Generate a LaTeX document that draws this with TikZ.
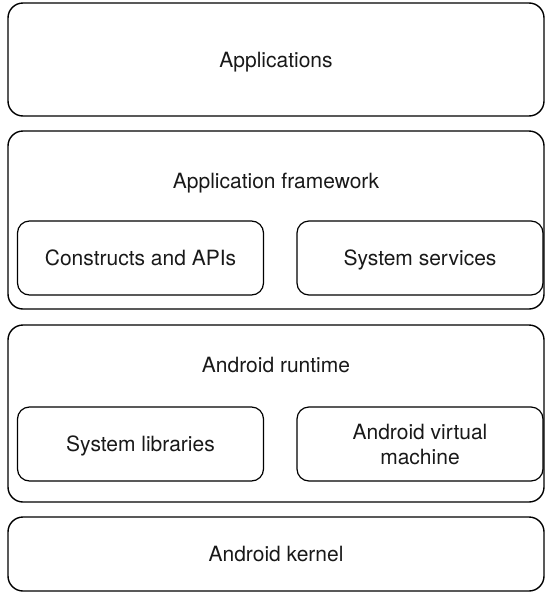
\documentclass[tikz,border=0pt]{standalone}
\usepackage{fontspec}
\setmainfont{TeX Gyre Heros}
\begin{document}
\begin{tikzpicture}[x=1pt, y=-1pt,
        strut/.style={text height=15pt, text depth=0pt},
        layer/.style={draw, line width=1.4pt, rounded corners=15pt, minimum width=536pt, inner sep=0pt},
        part/.style={draw, line width=1.2pt, rounded corners=12pt, minimum width=246pt, minimum height=74pt, inner sep=0pt, align=center},
        every node/.style={font=\fontsize{21}{25}\selectfont, text=black!90}]
        \useasboundingbox (0, 0) rectangle (545, 592);

        \node[layer, strut, minimum height=113pt] (apps) at (276, 59.5) {Applications};
        \node[layer, minimum height=178pt] (frame) at (276, 220) {};
        \node[layer, minimum height=177pt] (runtime) at (276, 413.5) {};
        \node[layer, strut, minimum height=74pt] (kernel) at (276, 554) {Android kernel};

        \node[strut] (frametitle) at (276, 181) {Application framework};
        \node[part, strut] (apis) at (140.5, 258) {Constructs and APIs};
        \node[part, strut] (services) at (420, 258) {System services};

        \node[strut] (runtimetitle) at (276, 365) {Android runtime};
        \node[part, strut] (libs) at (140.5, 444) {System libraries};
        \node[part] (vm) at (420, 444) {Android virtual\\machine};
    \end{tikzpicture}
\end{document}
